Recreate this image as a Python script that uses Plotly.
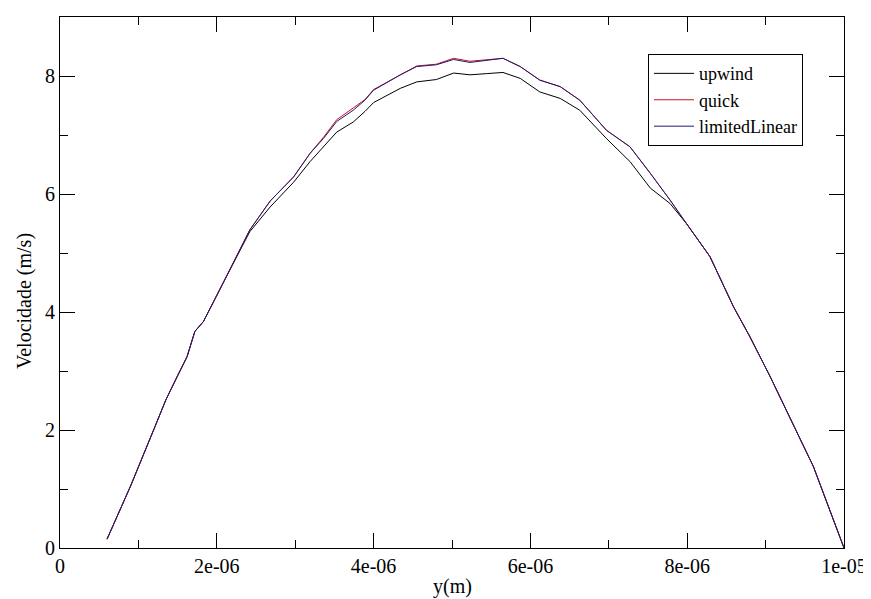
import plotly.graph_objects as go

# y position (m)
y_pos = [0.60e-6, 0.90e-6, 1.20e-6, 1.35e-6, 1.50e-6, 1.62e-6, 1.72e-6, 1.83e-6,
         2.08e-6, 2.32e-6, 2.42e-6, 2.68e-6, 2.98e-6, 3.19e-6, 3.36e-6, 3.53e-6,
         3.74e-6, 3.89e-6, 4.00e-6, 4.34e-6, 4.55e-6, 4.80e-6, 5.02e-6, 5.23e-6,
         5.44e-6, 5.65e-6, 5.87e-6, 6.12e-6, 6.38e-6, 6.63e-6, 6.97e-6, 7.27e-6,
         7.53e-6, 7.78e-6, 7.99e-6, 8.29e-6, 8.59e-6, 8.80e-6, 9.06e-6, 9.35e-6,
         9.61e-6, 10.0e-6]

upwind = [0.15, 1.05, 2.02, 2.51, 2.92, 3.24, 3.67, 3.84,
          4.49, 5.11, 5.36, 5.78, 6.20, 6.55, 6.80, 7.05,
          7.22, 7.40, 7.55, 7.79, 7.90, 7.94, 8.05, 8.02,
          8.04, 8.06, 7.96, 7.73, 7.62, 7.42, 6.94, 6.55,
          6.10, 5.84, 5.50, 4.94, 4.09, 3.58, 2.90, 2.11,
          1.38, 0.00]

quick = [0.15, 1.05, 2.02, 2.51, 2.92, 3.24, 3.67, 3.84,
         4.49, 5.11, 5.39, 5.88, 6.29, 6.69, 6.96, 7.26,
         7.45, 7.60, 7.77, 8.02, 8.17, 8.20, 8.30, 8.25,
         8.27, 8.30, 8.16, 7.93, 7.82, 7.59, 7.08, 6.80,
         6.35, 5.90, 5.50, 4.94, 4.09, 3.58, 2.90, 2.11,
         1.38, 0.00]

limitedLinear = [0.15, 1.05, 2.02, 2.51, 2.92, 3.24, 3.67, 3.84,
                 4.49, 5.11, 5.39, 5.88, 6.29, 6.69, 6.94, 7.23,
                 7.42, 7.59, 7.76, 8.02, 8.16, 8.19, 8.28, 8.23,
                 8.26, 8.30, 8.16, 7.93, 7.82, 7.59, 7.08, 6.80,
                 6.35, 5.90, 5.50, 4.94, 4.09, 3.58, 2.90, 2.11,
                 1.38, 0.00]

x_tickvals = [0, 2e-6, 4e-6, 6e-6, 8e-6, 1e-5]
x_ticktext = ["0", "2e-06", "4e-06", "6e-06", "8e-06", "1e-05"]
y_tickvals = [0, 2, 4, 6, 8]
y_ticktext = ["0", "2", "4", "6", "8"]

FONT = "'Liberation Serif', 'Times New Roman', Times, serif"

fig = go.Figure()
fig.add_trace(go.Scatter(x=y_pos, y=upwind, mode="lines", name="upwind",
                         line=dict(color="#000000", width=1)))
fig.add_trace(go.Scatter(x=y_pos, y=quick, mode="lines", name="quick",
                         line=dict(color="#d01020", width=1)))
fig.add_trace(go.Scatter(x=y_pos, y=limitedLinear, mode="lines", name="limitedLinear",
                         line=dict(color="#1c1c70", width=1)))

axis_common = dict(showgrid=False, zeroline=False, showline=True, linecolor="black",
                   linewidth=1, mirror="ticks", ticks="inside", ticklen=15,
                   tickcolor="black", tickwidth=1,
                   tickfont=dict(family=FONT, size=20, color="black"))

fig.update_xaxes(range=[0, 1e-5], tickmode="array", tickvals=x_tickvals,
                 ticktext=x_ticktext,
                 minor=dict(ticks="inside", ticklen=8, dtick=1e-6, tick0=0,
                            tickcolor="black", tickwidth=1, showgrid=False),
                 **axis_common)
fig.update_yaxes(range=[0, 9], tickmode="array", tickvals=y_tickvals,
                 ticktext=y_ticktext,
                 minor=dict(ticks="inside", ticklen=8, dtick=1, tick0=0,
                            tickcolor="black", tickwidth=1, showgrid=False),
                 **axis_common)

fig.add_annotation(text="y(m)", xref="paper", yref="paper", x=0.5, y=-0.0734,
                   xanchor="center", yanchor="middle", showarrow=False,
                   font=dict(family=FONT, size=20, color="black"))
fig.add_annotation(text="Velocidade (m/s)", xref="paper", yref="paper",
                   x=-0.046, y=0.465, xanchor="center", yanchor="middle",
                   textangle=-90, showarrow=False,
                   font=dict(family=FONT, size=20, color="black"))

# the page body adds an 8px margin, so the figure is sized to fit the 871x599 window
fig.update_layout(
    width=863, height=591,
    margin=dict(l=52, r=27, t=9, b=51, autoexpand=False),
    paper_bgcolor="white", plot_bgcolor="white",
    font=dict(family=FONT, size=20, color="black"),
    legend=dict(x=0.75, y=0.93, xanchor="left", yanchor="top",
                bgcolor="white", bordercolor="black", borderwidth=1,
                font=dict(family=FONT, size=18, color="black"),
                itemwidth=40, tracegroupgap=0),
    showlegend=True,
)

fig.write_html("out.html")
